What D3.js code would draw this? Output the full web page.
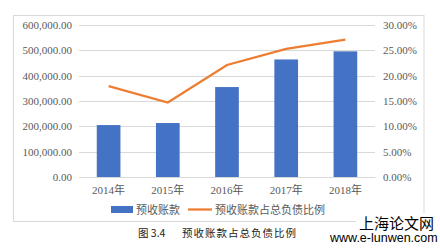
<!DOCTYPE html>
<html><head><meta charset="utf-8">
<script src="https://cdn.jsdelivr.net/npm/d3@7"></script>
<style>body{margin:0;background:#fff}svg{display:block}</style>
</head><body>
<svg id="c" width="440" height="249"></svg>
<script>
const categories = ["2014年","2015年","2016年","2017年","2018年"];
const advanceReceipts = [205000, 213000, 355000, 464000, 496000];
const ratio = [0.1795, 0.147, 0.221, 0.253, 0.271];
const leftTicks = [0,100000,200000,300000,400000,500000,600000];
const rightTicks = [0,0.05,0.10,0.15,0.20,0.25,0.30];
const legendLabels = ["预收账款","预收账款占总负债比例"];
const caption = ["图 3.4","预收账款占总负债比例"];

const svg = d3.select("#c");
const serif = "'Liberation Serif','Times New Roman',serif";
const cjk = "'Liberation Serif','Noto Sans CJK SC',serif";
// border
svg.append("rect").attr("x",13.5).attr("y",15.5).attr("width",410.5).attr("height",206)
  .attr("fill","#fff").attr("stroke","#d9d9d9");

const x = d3.scaleBand().domain(categories).range([79,375]).paddingInner(0.6).paddingOuter(0.3);
const yL = d3.scaleLinear().domain([0,600000]).range([177,25]);
const yR = d3.scaleLinear().domain([0,0.30]).range([177,25]);

// gridlines
svg.append("g").selectAll("line").data(leftTicks).join("line")
  .attr("x1",79).attr("x2",375).attr("y1",d=>Math.round(yL(d))+0.5).attr("y2",d=>Math.round(yL(d))+0.5)
  .attr("stroke","#d9d9d9").attr("stroke-width",1);

// left axis
const gl = svg.append("g").attr("transform","translate(79,0)")
  .call(d3.axisLeft(yL).tickValues(leftTicks).tickSize(0).tickPadding(7).tickFormat(d3.format(",.2f")));
gl.select(".domain").remove();
gl.selectAll("text").attr("font-family",serif).attr("font-size",11).attr("fill","#595959");

// right axis
const gr = svg.append("g").attr("transform","translate(375,0)")
  .call(d3.axisRight(yR).tickValues(rightTicks).tickSize(0).tickPadding(8).tickFormat(d3.format(".2%")));
gr.select(".domain").remove();
gr.selectAll("text").attr("font-family",serif).attr("font-size",11).attr("fill","#595959");

// bars
svg.append("g").selectAll("rect").data(advanceReceipts).join("rect")
  .attr("x",(d,i)=>x(categories[i])).attr("width",x.bandwidth())
  .attr("y",d=>yL(d)).attr("height",d=>yL(0)-yL(d)).attr("fill","#4472C4");

// line
svg.append("path").datum(ratio)
  .attr("d",d3.line().x((d,i)=>x(categories[i])+x.bandwidth()/2).y(d=>yR(d)))
  .attr("fill","none").attr("stroke","#ED7D31").attr("stroke-width",2.25);

// x axis labels
const gx = svg.append("g").attr("transform","translate(0,177)")
  .call(d3.axisBottom(x).tickSize(0).tickPadding(9));
gx.select(".domain").attr("stroke","#d9d9d9");
gx.selectAll("text").attr("font-family",cjk).attr("font-size",11).attr("fill","#595959");

// legend
const lg = svg.append("g");
lg.append("rect").attr("x",111).attr("y",206).attr("width",22).attr("height",7).attr("fill","#4472C4");
lg.append("text").attr("x",136).attr("y",213.5).text(legendLabels[0])
  .attr("font-family",cjk).attr("font-size",11).attr("fill","#595959");
lg.append("line").attr("x1",188).attr("x2",212).attr("y1",209.5).attr("y2",209.5)
  .attr("stroke","#ED7D31").attr("stroke-width",2.25);
lg.append("text").attr("x",215).attr("y",213.5).text(legendLabels[1])
  .attr("font-family",cjk).attr("font-size",11).attr("fill","#595959");

// caption
svg.append("text").attr("x",138).attr("y",237).text(caption[0])
  .attr("font-family","'Noto Sans CJK SC',sans-serif").attr("font-size",10.5).attr("fill","#222");
svg.append("text").attr("x",182).attr("y",237).text(caption[1])
  .attr("font-family","'Noto Sans CJK SC',sans-serif").attr("font-size",10.5).attr("letter-spacing",1).attr("fill","#222");

// watermark
svg.append("rect").attr("x",356).attr("y",213).attr("width",84).attr("height",36).attr("fill","#fff");
svg.append("text").attr("x",359).attr("y",229).text("上海论文网")
  .attr("font-family","'Noto Sans CJK SC',sans-serif").attr("font-size",15).attr("fill","#000");
svg.append("text").attr("x",330).attr("y",242).text("www.e-lunwen.com")
  .attr("font-family","'Liberation Sans',Arial,sans-serif").attr("font-size",12.5).attr("fill","#000");
</script>
</body></html>
